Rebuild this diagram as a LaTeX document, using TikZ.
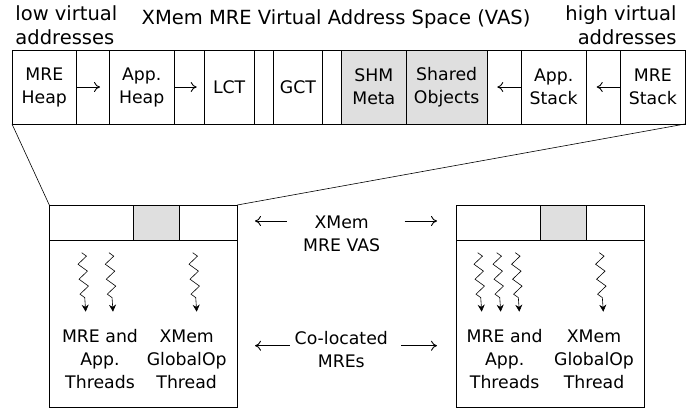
\documentclass[tikz,border=0pt]{standalone}
\usepackage{fontspec}
\setmainfont{DejaVu Sans}
\usetikzlibrary{positioning,arrows.meta,decorations.pathmorphing}
\tikzset{%
  cell/.style      = {draw, outer sep=0pt, inner sep=0pt, align=center,%
                      minimum height=74pt, anchor=north west},%
  shmcell/.style   = {cell, fill=gray!25},%
  strip/.style     = {draw, outer sep=0pt, inner sep=0pt,%
                      minimum height=35.7pt, anchor=north west},%
  mrebox/.style    = {draw, outer sep=0pt, inner sep=0pt, minimum width=188pt,%
                      minimum height=202pt, anchor=north west},%
  heading/.style   = {font=\fontsize{19.5}{24.5}\selectfont, inner sep=0pt},%
  growarr/.style   = {-{To[length=6pt,width=10pt]}},%
  threadarr/.style = {-{Stealth[length=7pt,width=7pt]}, line width=0.6pt,%
                      decorate, decoration={zigzag, segment length=15pt,%
                      amplitude=4.5pt, pre length=0pt, post length=14pt}}%
}
\begin{document}
\begin{tikzpicture}[x=1pt,y=-1pt,line width=0.9pt,
	every node/.style={font=\fontsize{17.3}{23}\selectfont, align=center}]
\useasboundingbox (0,0) rectangle (693,408);
% labels above the address space
	\node[heading] (title) at (336,19) {XMem MRE Virtual Address Space (VAS)};
	\node[heading, anchor=west, align=left] (low) at (15,25) {low virtual\\addresses};
	\node[heading, anchor=east, align=right] (high) at (677,25) {high virtual\\addresses};
% the address space, low to high
	\node[cell, minimum width=64.7pt] (mheap) at (12,50) {MRE\\Heap};
	\node[cell, minimum width=32.6pt, right=0pt of mheap] (gap1) {};
	\node[cell, minimum width=64.7pt, right=0pt of gap1] (aheap) {App.\\Heap};
	\node[cell, minimum width=30.3pt, right=0pt of aheap] (gap2) {};
	\node[cell, minimum width=49.7pt, right=0pt of gap2] (lct) {LCT};
	\node[cell, minimum width=19.3pt, right=0pt of lct] (gap3) {};
	\node[cell, minimum width=49.4pt, right=0pt of gap3] (gct) {GCT};
	\node[cell, minimum width=19pt, right=0pt of gct] (gap4) {};
	\node[shmcell, minimum width=64.3pt, right=0pt of gap4] (shm) {SHM\\Meta};
	\node[shmcell, minimum width=81.3pt, right=0pt of shm] (shobj) {Shared\\Objects};
	\node[cell, minimum width=34pt, right=0pt of shobj] (gap5) {};
	\node[cell, minimum width=64.7pt, right=0pt of gap5] (astack) {App.\\Stack};
	\node[cell, minimum width=34.7pt, right=0pt of astack] (gap6) {};
	\node[cell, minimum width=64.3pt, right=0pt of gap6] (mstack) {MRE\\Stack};
	\draw[growarr] (mheap.east) -- ++(23.3,0);
	\draw[growarr] (aheap.east) -- ++(22.7,0);
	\draw[growarr] (astack.west) -- ++(-24,0);
	\draw[growarr] (mstack.west) -- ++(-24,0);
% two co-located MREs
	\node[mrebox] (mreA) at (49.3,205) {};
	\node[strip, minimum width=84pt] (stripA1) at (mreA.north west) {};
	\node[strip, minimum width=45.7pt, fill=gray!25, right=0pt of stripA1] (stripA2) {};
	\node[strip, minimum width=58.3pt, right=0pt of stripA2] (stripA3) {};
	\node[mrebox] (mreB) at (456.7,205) {};
	\node[strip, minimum width=83.3pt] (stripB1) at (mreB.north west) {};
	\node[strip, minimum width=46pt, fill=gray!25, right=0pt of stripB1] (stripB2) {};
	\node[strip, minimum width=58.7pt, right=0pt of stripB2] (stripB3) {};
	\draw[line width=0.6pt] (mheap.south west) -- (mreA.north west);
	\draw[line width=0.6pt] (mstack.south east) -- (mreA.north east);
	\foreach \x in {85.7,113,196.7,481.7,500.7,519.3,603.3}
		\draw[threadarr] (\x-4,252.7) -- (\x,311.7);
	\node (thrA) at (100,359) {MRE and\\App.\\Threads};
	\node (gopA) at (186.7,359) {XMem\\GlobalOp\\Thread};
	\node (thrB) at (504.7,359) {MRE and\\App.\\Threads};
	\node (gopB) at (594,359) {XMem\\GlobalOp\\Thread};
% labels between the MREs
	\node (vas) at (341.7,234) {XMem\\MRE VAS};
	\node (coloc) at (341.3,350) {Co-located\\MREs};
	\draw[growarr, shorten <=12.6pt, shorten >=17.7pt] ([yshift=13pt]vas.west) -- ([yshift=13pt]vas.west -| mreA.east);
	\draw[growarr, shorten <=20.8pt, shorten >=19.7pt] ([yshift=13pt]vas.east) -- ([yshift=13pt]vas.east -| mreB.west);
	\draw[growarr, shorten <=1pt, shorten >=17.7pt] ([yshift=4.3pt]coloc.west) -- ([yshift=4.3pt]coloc.west -| mreA.east);
	\draw[growarr, shorten <=9.8pt, shorten >=19.7pt] ([yshift=4.3pt]coloc.east) -- ([yshift=4.3pt]coloc.east -| mreB.west);
\end{tikzpicture}
\end{document}
